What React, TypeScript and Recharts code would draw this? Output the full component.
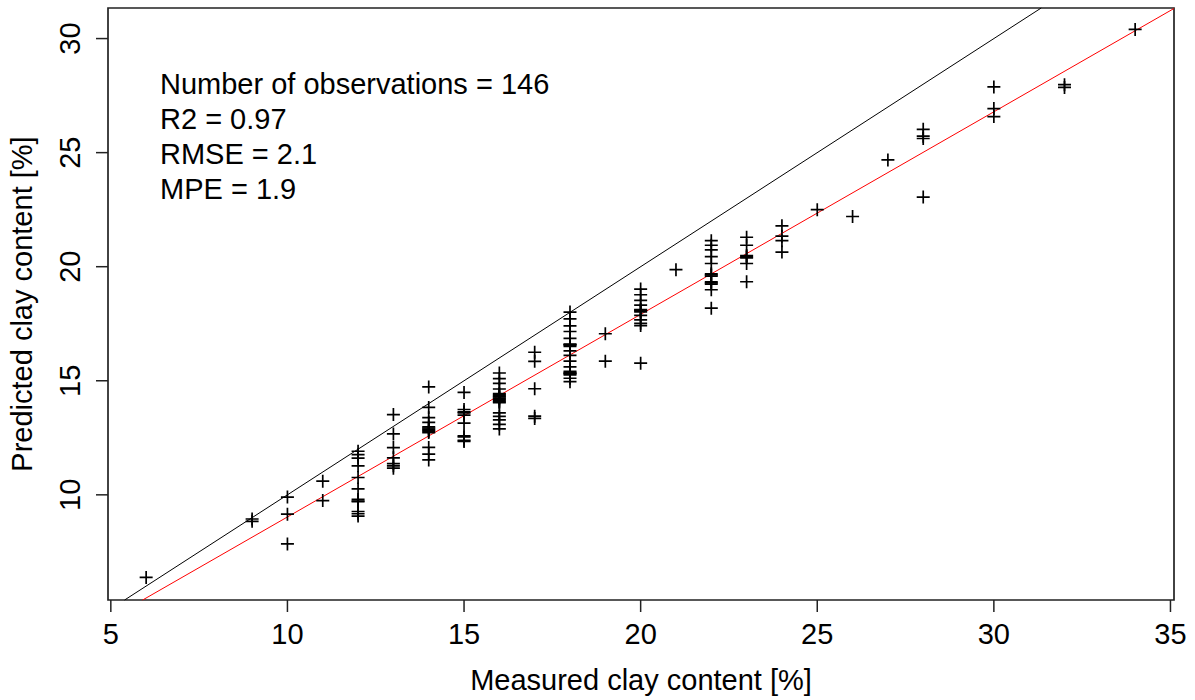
import React from 'react';
import { ScatterChart, Scatter, XAxis, YAxis, ReferenceLine, ReferenceArea, Label } from 'recharts';

const MEASURED: number[] = [
  6,
  9, 9,
  10, 10, 10,
  11, 11,
  12, 12, 12, 12, 12, 12, 12, 12, 12, 12, 12, 12,
  13, 13, 13, 13, 13, 13, 13,
  14, 14, 14, 14, 14, 14, 14, 14, 14, 14, 14, 14, 14,
  15, 15, 15, 15, 15, 15, 15, 15, 15, 15,
  16, 16, 16, 16, 16, 16, 16, 16, 16, 16, 16, 16, 16, 16, 16, 16, 16, 16,
  17, 17, 17, 17, 17,
  18, 18, 18, 18, 18, 18, 18, 18, 18, 18, 18, 18, 18, 18, 18, 18, 18, 18, 18, 18,
  19, 19,
  20, 20, 20, 20, 20, 20, 20, 20, 20, 20, 20, 20, 20,
  21,
  22, 22, 22, 22, 22, 22, 22, 22, 22, 22, 22, 22, 22,
  23, 23, 23, 23, 23, 23, 23,
  24, 24, 24, 24,
  25,
  26,
  27,
  28, 28, 28, 28,
  30, 30, 30,
  32, 32,
  34,
];

const PREDICTED: number[] = [
  6.38,
  8.94, 8.84,
  9.9, 9.15, 7.85,
  10.6, 9.75,
  11.91, 11.76, 11.61, 11.27, 10.76, 10.26, 9.8, 9.73, 9.7, 9.27, 9.17, 9.07,
  13.52, 12.67, 12.07, 11.62, 11.37, 11.27, 11.17,
  14.73, 13.83, 13.38, 13.18, 12.98, 12.93, 12.83, 12.78, 12.08, 11.78, 11.53, 12.88, 12.73,
  14.49, 13.74, 13.64, 13.59, 13.49, 13.14, 12.59, 12.54, 12.34, 12.39,
  15.34, 15.09, 14.89, 14.64, 14.44, 14.34, 14.24, 14.19, 14.14, 14.09, 14.04, 14.29, 13.59, 13.44, 13.29, 13.09, 12.89, 14.39,
  16.25, 15.85, 14.65, 13.45, 13.35,
  18.01, 17.71, 17.41, 17.16, 16.86, 16.61, 16.56, 16.51, 16.31, 16.11, 15.86, 15.61, 15.41, 15.36, 15.31, 15.26, 15.11, 14.96, 16.59, 15.33,
  17.06, 15.86,
  19.02, 18.77, 18.52, 18.32, 18.12, 18.07, 18.02, 17.87, 17.67, 17.42, 15.77, 18.1, 17.52,
  19.87,
  21.14, 20.94, 20.74, 20.44, 20.14, 19.69, 19.64, 19.59, 19.34, 19.29, 19.24, 18.99, 18.18,
  21.29, 20.94, 20.49, 20.44, 20.39, 20.14, 19.34,
  21.79, 21.34, 21.14, 20.64,
  22.5,
  22.2,
  24.68,
  26.02, 25.72, 25.62, 23.05,
  27.88, 26.93, 26.58,
  27.98, 27.86,
  30.4,
];

const X_TICKS = [5, 10, 15, 20, 25, 30, 35];
const Y_TICKS = [10, 15, 20, 25, 30];
const X_DOMAIN: [number, number] = [4.92, 35.1];
const Y_DOMAIN: [number, number] = [5.39, 31.34];

const FIT_SLOPE = 0.888;
const FIT_INTERCEPT = 0.15;

const STATS = [
  'Number of observations = 146',
  'R2 = 0.97',
  'RMSE = 2.1',
  'MPE = 1.9',
];

const X_LABEL = 'Measured clay content [%]';
const Y_LABEL = 'Predicted clay content [%]';

const FONT = '"Liberation Sans", Arial, sans-serif';
const FS = 29;

const data = MEASURED.map((x, i) => ({ x, y: PREDICTED[i] }));

// 1:1 line endpoints within the plotted region
const oneLo = Math.max(X_DOMAIN[0], Y_DOMAIN[0]);
const oneHi = Math.min(X_DOMAIN[1], Y_DOMAIN[1]);
const oneToOne = [
  { x: oneLo, y: oneLo },
  { x: oneHi, y: oneHi },
];

// fitted line endpoints within the plotted region
const fitXLo = Math.max(X_DOMAIN[0], (Y_DOMAIN[0] - FIT_INTERCEPT) / FIT_SLOPE);
const fitXHi = Math.min(X_DOMAIN[1], (Y_DOMAIN[1] - FIT_INTERCEPT) / FIT_SLOPE);
const fitLine = [
  { x: fitXLo, y: FIT_SLOPE * fitXLo + FIT_INTERCEPT },
  { x: fitXHi, y: FIT_SLOPE * fitXHi + FIT_INTERCEPT },
];

const Cross = (props: any) => {
  const { cx, cy } = props;
  if (cx == null || cy == null) return null;
  const r = 6.5;
  return (
    <path
      d={`M${cx - r},${cy}H${cx + r}M${cx},${cy - r}V${cy + r}`}
      stroke="#000"
      strokeWidth={1.7}
      fill="none"
    />
  );
};

const YTick = (props: any) => {
  const { x, y, payload } = props;
  return (
    <text
      x={x}
      y={y}
      transform={`rotate(-90 ${x} ${y})`}
      textAnchor="middle"
      fontSize={FS}
      fontFamily={FONT}
      fill="#000"
    >
      {payload.value}
    </text>
  );
};

const YLabel = (props: any) => {
  const vb = props.viewBox || {};
  const cx = (vb.x ?? 0) + 32;
  const cy = (vb.y ?? 0) + (vb.height ?? 0) / 2;
  return (
    <text
      x={cx}
      y={cy}
      transform={`rotate(-90 ${cx} ${cy})`}
      textAnchor="middle"
      fontSize={FS}
      fontFamily={FONT}
      fill="#000"
    >
      {Y_LABEL}
    </text>
  );
};

export default function App() {
  return (
    <div style={{ position: 'absolute', left: 0, top: 0, width: 1195, height: 700, background: '#fff' }}>
      <ScatterChart
        width={1195}
        height={700}
        margin={{ top: 8, right: 21, bottom: 0, left: 0 }}
      >
        <XAxis
          type="number"
          dataKey="x"
          domain={X_DOMAIN}
          ticks={X_TICKS}
          allowDataOverflow
          height={100}
          axisLine={false}
          tickSize={12}
          tickMargin={11}
          tickLine={{ stroke: '#222', strokeWidth: 1.5 }}
          tick={{ fontSize: FS, fontFamily: FONT, fill: '#000' }}
        >
          <Label
            value={X_LABEL}
            position="insideBottom"
            offset={10}
            style={{ fontSize: FS, fontFamily: FONT, fill: '#000' }}
          />
        </XAxis>
        <YAxis
          type="number"
          dataKey="y"
          domain={Y_DOMAIN}
          ticks={Y_TICKS}
          allowDataOverflow
          width={108}
          axisLine={false}
          tickSize={12}
          tickMargin={16}
          tickLine={{ stroke: '#222', strokeWidth: 1.5 }}
          tick={<YTick />}
        >
          <Label content={<YLabel />} />
        </YAxis>
        <ReferenceArea
          x1={X_DOMAIN[0]}
          x2={X_DOMAIN[1]}
          y1={Y_DOMAIN[0]}
          y2={Y_DOMAIN[1]}
          fill="none"
          fillOpacity={0}
          stroke="#222"
          strokeWidth={1.7}
          ifOverflow="visible"
        />
        <Scatter data={data} shape={<Cross />} isAnimationActive={false} />
        <ReferenceLine segment={oneToOne} stroke="#000" strokeWidth={1} ifOverflow="visible" />
        <ReferenceLine segment={fitLine} stroke="#ff0000" strokeWidth={1} ifOverflow="visible" />
      </ScatterChart>
      <svg
        width={1195}
        height={700}
        style={{ position: 'absolute', left: 0, top: 0, pointerEvents: 'none' }}
      >
        {STATS.map((s, i) => (
          <text
            key={s}
            x={160}
            y={94 + i * 34.9}
            fontSize={FS}
            fontFamily={FONT}
            fill="#000"
          >
            {s}
          </text>
        ))}
      </svg>
    </div>
  );
}
